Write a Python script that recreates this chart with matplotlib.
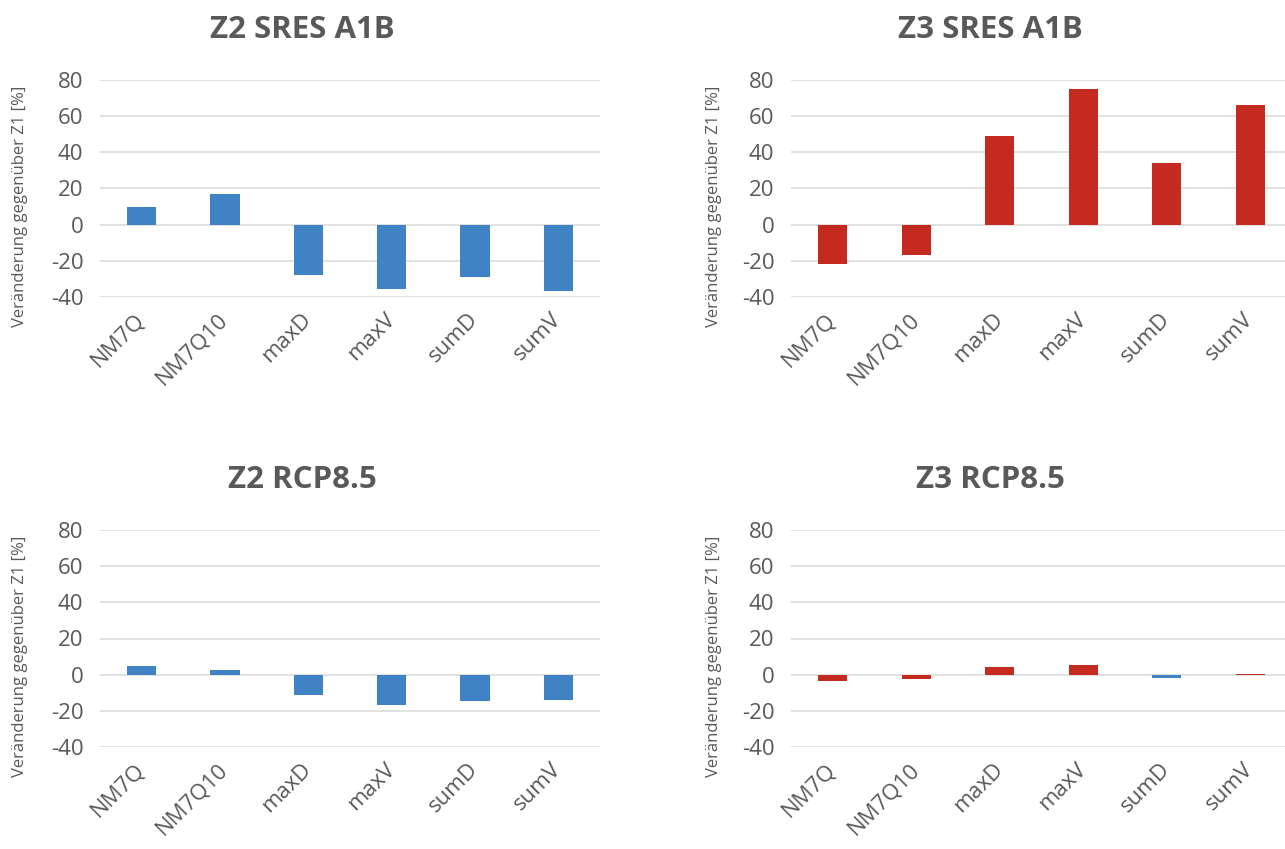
import matplotlib
matplotlib.use("Agg")
import matplotlib.pyplot as plt

categories = ["NM7Q", "NM7Q10", "maxD", "maxV", "sumD", "sumV"]
z2_sres = [9.6, 16.8, -28.1, -35.4, -29.2, -36.5]
z3_sres = [-22.0, -16.5, 49.3, 75.2, 34.3, 66.4]
z2_rcp = [4.6, 2.8, -11.0, -16.5, -14.5, -14.0]
z3_rcp = [-3.3, -2.2, 4.0, 5.2, -2.0, 0.5]
titles = ["Z2 SRES A1B", "Z3 SRES A1B", "Z2 RCP8.5", "Z3 RCP8.5"]
ylabel = "Veränderung gegenüber Z1 [%]"
yticks = [-40, -20, 0, 20, 40, 60, 80]

BLUE = "#3F83C5"
RED = "#C42A20"
GRAY = "#595959"
GRID = "#D9D9D9"

plt.rcParams['font.family'] = ['Open Sans', 'DejaVu Sans']

W, H = 1285, 849
fig = plt.figure(figsize=(W / 100, H / 100), dpi=100)

def px_axes(left, right, top, bottom):
    return [left / W, 1 - bottom / H, (right - left) / W, (bottom - top) / H]

panels = [
    (px_axes(100, 600, 80, 297), z2_sres, [BLUE] * 6, titles[0], 302, 30, -0.144),
    (px_axes(791, 1292, 80, 297), z3_sres, [RED] * 6, titles[1], 990, 30, -0.138),
    (px_axes(100, 600, 530, 747), z2_rcp, [BLUE] * 6, titles[2], 302, 480, -0.144),
    (px_axes(791, 1292, 530, 747), z3_rcp, [RED, RED, RED, RED, BLUE, RED], titles[3], 990, 480, -0.138),
]

for rect, vals, cols, title, tx, ty, lx in panels:
    ax = fig.add_axes(rect)
    x = list(range(len(categories)))
    ax.bar(x, vals, width=0.35, color=cols, linewidth=0, zorder=3)
    ax.set_xlim(-0.5, len(categories) - 0.5)
    ax.set_ylim(-40, 80)
    ax.set_yticks(yticks)
    ax.set_yticklabels([str(t) for t in yticks], fontsize=16, color=GRAY)
    ax.yaxis.grid(True, color=GRID, linewidth=1.1, zorder=0)
    ax.set_axisbelow(True)
    ax.set_xticks(x)
    ax.set_xticklabels(categories, rotation=45, ha="right", va="center",
                       rotation_mode="anchor", fontsize=16, color=GRAY)
    ax.tick_params(axis="x", length=0, pad=14)
    ax.tick_params(axis="y", length=0, pad=12)
    for s in ax.spines.values():
        s.set_visible(False)
    ax.set_ylabel(ylabel, fontsize=12, color=GRAY)
    ax.yaxis.set_label_coords(lx, 0.42)
    fig.text(tx / W, 1 - ty / H, title, fontsize=22.5, fontweight="bold",
             color=GRAY, ha="center", va="center")

fig.savefig("out.png", dpi=100, facecolor="white")
